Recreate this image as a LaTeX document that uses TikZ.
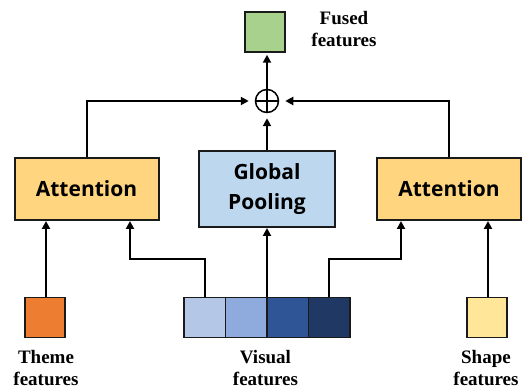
\documentclass[tikz,border=0pt]{standalone}
\usepackage{fontspec}
\setmainfont{Liberation Serif}
\newfontfamily\boxfont{Open Sans}
\usetikzlibrary{arrows.meta}
\definecolor{attfill}{HTML}{FFD57F}
\definecolor{poolfill}{HTML}{BDD7EE}
\definecolor{fusedfill}{HTML}{A9D18E}
\definecolor{themefill}{HTML}{ED7D31}
\definecolor{shapefill}{HTML}{FFE699}
\definecolor{visA}{HTML}{B4C7E7}
\definecolor{visB}{HTML}{8FAADC}
\definecolor{visC}{HTML}{2F5597}
\definecolor{visD}{HTML}{203864}
\definecolor{edge}{HTML}{1A1A1A}
\begin{document}
\begin{tikzpicture}[x=1pt,y=-1pt,
  box/.style={draw=edge, line width=2pt, inner sep=0pt, font=\boxfont\bfseries\fontsize{21}{30}\selectfont, align=center},
  feat/.style={draw=edge, line width=1.5pt, minimum width=40pt, minimum height=40pt, inner sep=0pt},
  lbl/.style={font=\bfseries\fontsize{19}{22.5}\selectfont, align=center, inner sep=0pt, anchor=north},
  conn/.style={draw=black, line width=2pt, -{Triangle[length=8pt,width=8pt]}}
]
\useasboundingbox (0,0) rectangle (523,390);
% boxes
\node[box, fill=attfill, minimum width=144pt, minimum height=62pt] (attL) at (86.5,189) {Attention};
\node[box, fill=poolfill, minimum width=136pt, minimum height=76pt] (pool) at (267,189) {Global\\Pooling};
\node[box, fill=attfill, minimum width=144pt, minimum height=62pt] (attR) at (449,189) {Attention};
% fused output
\node[feat, fill=fusedfill] (fused) at (265,32) {};
\node[circle, draw=black, line width=1.5pt, minimum size=23pt, inner sep=0pt] (plus) at (267,101) {};
\draw[line width=1.5pt] (plus.north) -- (plus.south) (plus.west) -- (plus.east);
% input features
\node[feat, fill=themefill] (theme) at (45,317.5) {};
\node[feat, fill=shapefill] (shape) at (487,317.5) {};
\node[feat, fill=visA, minimum width=41.5pt] (v1) at (204.5,317.5) {};
\node[feat, fill=visB, minimum width=41.5pt] (v2) at (246,317.5) {};
\node[feat, fill=visC, minimum width=41.5pt] (v3) at (287.5,317.5) {};
\node[feat, fill=visD, minimum width=41.5pt] (v4) at (329,317.5) {};
\coordinate (vmid) at (267,297.5);
% labels
\node[lbl] (lfused) at (344,11) {Fused\\features};
\node[lbl] (ltheme) at (46,350) {Theme\\features};
\node[lbl] (lvis) at (265.5,350) {Visual\\features};
\node[lbl] (lshape) at (486,350) {Shape\\features};
% connectors
\coordinate (kL) at (130,259);
\coordinate (kR) at (401,259);
\draw[conn] (theme.north -| 46,0) -- (attL.south -| 46,0);
\draw[conn] (v1.north) |- (kL) -- (attL.south -| kL);
\draw[conn] (vmid) -- (pool.south);
\draw[conn] (v4.north) |- (kR) -- (attR.south -| kR);
\draw[conn] (shape.north -| 488,0) -- (attR.south -| 488,0);
\draw[conn, shorten >=5pt] (pool.north) -- (plus.south);
\draw[conn, shorten >=6pt] (attL.north) |- (plus.west);
\draw[conn, shorten >=6pt] (attR.north) |- (plus.east);
\draw[conn, shorten >=2pt] (plus.north) -- (plus.north |- fused.south);
\end{tikzpicture}
\end{document}
